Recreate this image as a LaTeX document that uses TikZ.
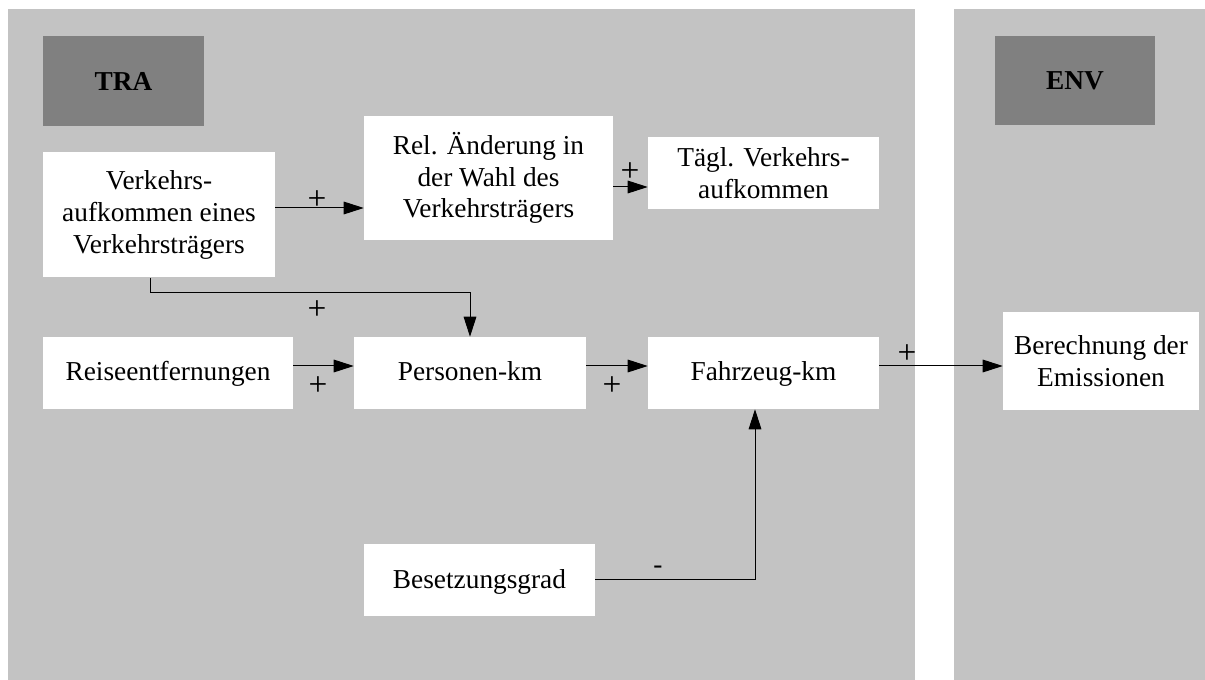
\documentclass[tikz,border=0pt]{standalone}
\usepackage{fontspec}
\setmainfont{Liberation Serif}
\usetikzlibrary{arrows.meta}
\definecolor{panelgray}{RGB}{195,195,195}
\definecolor{headgray}{RGB}{128,128,128}
\begin{document}
\begin{tikzpicture}[x=0.75pt,y=-0.75pt,
  every node/.style={font=\fontsize{20.5pt}{23.8pt}\selectfont},
  sz/.style n args={2}{minimum width=#1*0.75pt, minimum height=#2*0.75pt},
  block/.style={fill=white, inner sep=0pt, align=center},
  oneline/.style={text height=14pt, text depth=2pt},
  head/.style={fill=headgray, inner sep=0pt, font=\fontsize{20.5pt}{23.8pt}\selectfont\bfseries},
  flow/.style={-{Triangle[length=15pt,width=9.5pt]}, line width=0.75pt},
  sign/.style={inner sep=0pt, font=\fontsize{25pt}{28pt}\selectfont},
  minus/.style={inner sep=0pt}]
\useasboundingbox (0,0) rectangle (1205,680);
\fill[white] (0,0) rectangle (1205,680);
% sector panels
\fill[panelgray] (8,9) rectangle (915,680);
\fill[panelgray] (954,9) rectangle (1205,680);

% sector headers
\node[head, sz={161}{90}] (tra) at (123.5,81) {TRA};
\node[head, sz={160}{89}] (env) at (1075,80.5) {ENV};

% variables
\node[block, sz={232}{125}] (verk) at (159,215) {Verkehrs-\\aufkommen eines\\Verkehrsträgers};
\node[block, sz={249}{124}] (rel) at (488.5,178) {Rel. Änderung in\\der Wahl des\\Verkehrsträgers};
\node[block, sz={231}{72}] (taegl) at (763.5,173) {Tägl. Verkehrs-\\aufkommen};
\node[block, oneline, sz={250}{72}] (reise) at (168,373) {Reiseentfernungen};
\node[block, oneline, sz={232}{72}] (pers) at (470,373) {Personen-km};
\node[block, oneline, sz={231}{72}] (fahr) at (763.5,373) {Fahrzeug-km};
\node[block, sz={196}{98}] (ber) at (1101,361) {Berechnung der\\Emissionen};
\node[block, oneline, sz={231}{72}] (bes) at (479.5,580) {Besetzungsgrad};

% causal links
\draw[flow] (verk.east |- 0,208) -- (rel.west |- 0,208);
\draw[flow] (rel.east |- 0,187) -- (taegl.west |- 0,187);
\draw[flow] (verk.south -| 150,0) -- (150,293) -| (pers.north);
\draw[flow] (reise.east |- 0,366) -- (pers.west |- 0,366);
\draw[flow] (pers.east |- 0,366) -- (fahr.west |- 0,366);
\draw[flow] (fahr.east |- 0,366) -- (ber.west |- 0,366);
\draw[flow] (bes.east |- 0,579) -| (fahr.south -| 755,0);

% link polarities
\node[sign] (p1) at (317,200) {+};
\node[sign] (p2) at (630,172) {+};
\node[sign] (p3) at (317,310) {+};
\node[sign] (p4) at (318,386) {+};
\node[sign] (p5) at (612,386) {+};
\node[sign] (p6) at (907,354) {+};
\node[minus] (m1) at (658,570) {-};
\end{tikzpicture}
\end{document}
